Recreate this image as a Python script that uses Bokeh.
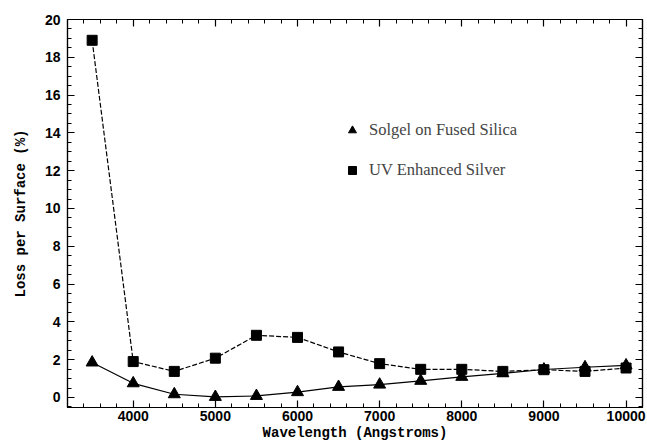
from bokeh.plotting import figure
from bokeh.models import (SingleIntervalTicker, LinearAxis, Range1d, Legend, LegendItem,
                          CustomJSTickFormatter)
from bokeh.embed import file_html
from bokeh.resources import INLINE

wavelength = [3500, 4000, 4500, 5000, 5500, 6000, 6500, 7000, 7500, 8000, 8500, 9000, 9500, 10000]
solgel = [1.85, 0.75, 0.17, 0.03, 0.08, 0.28, 0.56, 0.68, 0.88, 1.09, 1.28, 1.48, 1.6, 1.7]
uv_silver = [18.9, 1.9, 1.38, 2.08, 3.29, 3.18, 2.41, 1.79, 1.49, 1.49, 1.38, 1.47, 1.38, 1.56]
series_labels = ["Solgel on Fused Silica", "UV Enhanced Silver"]
x_label = "Wavelength (Angstroms)"
y_label = "Loss per Surface (%)"

p = figure(width=647, height=443, output_backend="svg", toolbar_location=None,
           x_range=Range1d(3200, 10200), y_range=Range1d(-0.53, 20),
           min_border_left=67, min_border_right=5, min_border_top=19, min_border_bottom=35,
           x_axis_location=None, y_axis_location=None)
p.grid.visible = False
p.outline_line_color = "black"
p.outline_line_width = 1.2

tick_font = "Liberation Sans"
label_font = "Liberation Mono"

def make_axis(ticker, labeled):
    ax = LinearAxis(ticker=ticker)
    ax.major_tick_in = 7
    ax.major_tick_out = 0
    ax.minor_tick_in = 4
    ax.minor_tick_out = 0
    ax.axis_line_color = "black"
    ax.axis_line_width = 1.2
    ax.major_tick_line_color = "black"
    ax.minor_tick_line_color = "black"
    ax.major_tick_line_width = 1.2
    ax.minor_tick_line_width = 1
    if labeled:
        ax.major_label_text_font = tick_font
        ax.major_label_text_font_style = "bold"
        ax.major_label_text_font_size = "14px"
        ax.major_label_text_color = "black"
        ax.major_label_standoff = 3
    else:
        ax.formatter = CustomJSTickFormatter(code="return ''")
        ax.major_label_standoff = 0
    return ax

xt = SingleIntervalTicker(interval=1000, num_minor_ticks=5)
yt = SingleIntervalTicker(interval=2, num_minor_ticks=4)

xb = make_axis(xt, True)
xb.axis_label = x_label
xb.axis_label_text_font = label_font
xb.axis_label_text_font_style = "bold"
xb.axis_label_text_font_size = "14px"
xb.axis_label_text_color = "black"
xb.axis_label_standoff = 1
xb.major_label_standoff = 3
p.add_layout(xb, "below")

yl = make_axis(yt, True)
yl.axis_label = y_label
yl.axis_label_text_font = label_font
yl.axis_label_text_font_style = "bold"
yl.axis_label_text_font_size = "14px"
yl.axis_label_text_color = "black"
yl.axis_label_standoff = 13
yl.major_label_standoff = 7
p.add_layout(yl, "left")

p.add_layout(make_axis(SingleIntervalTicker(interval=1000, num_minor_ticks=5), False), "above")
p.add_layout(make_axis(SingleIntervalTicker(interval=2, num_minor_ticks=4), False), "right")

p.line(wavelength, solgel, line_color="black", line_width=1.2)
r_tri = p.scatter(wavelength, solgel, marker="triangle", size=12, fill_color="black", line_color="black")
p.line(wavelength, uv_silver, line_color="black", line_width=1.2, line_dash="5 2")
r_sq = p.scatter(wavelength, uv_silver, marker="square", size=10, fill_color="black", line_color="black")

legend = Legend(items=[LegendItem(label=series_labels[0], renderers=[r_tri]),
                       LegendItem(label=series_labels[1], renderers=[r_sq])],
                location=(275, 227), padding=0, margin=0, spacing=20,
                glyph_width=20, glyph_height=20, label_standoff=7,
                label_text_font="Liberation Serif", label_text_font_size="16.5px",
                border_line_alpha=0, background_fill_alpha=0)
p.add_layout(legend, "center")

open("out.html", "w").write(file_html(p, INLINE))
